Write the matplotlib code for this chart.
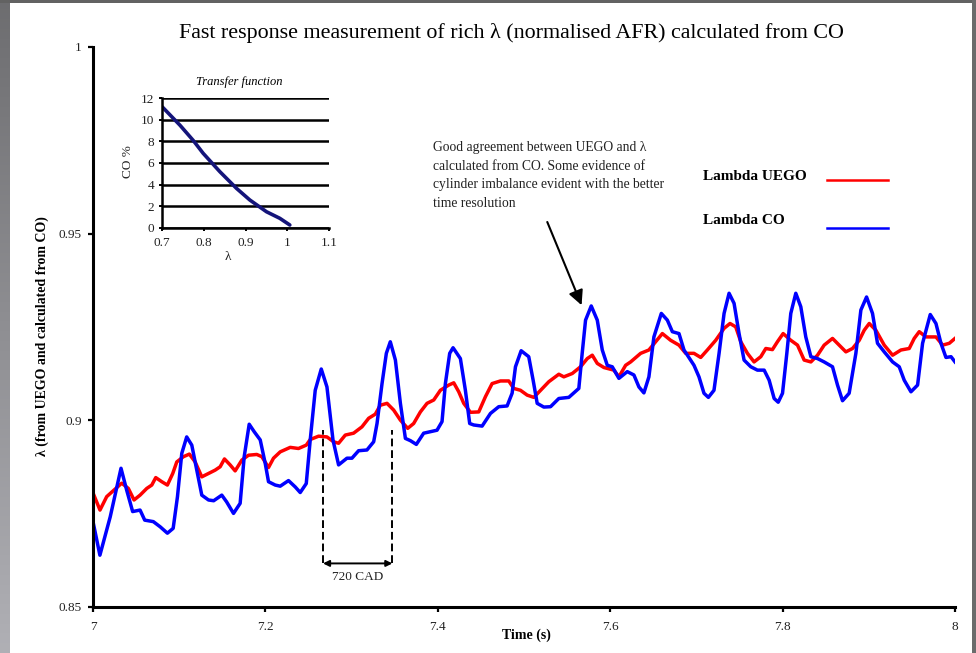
import numpy as np
import matplotlib
matplotlib.use("Agg")
import matplotlib.pyplot as plt
from matplotlib.patches import Rectangle
from matplotlib.lines import Line2D
from matplotlib.ticker import FuncFormatter

plt.rcParams['font.family'] = ['Liberation Serif', 'DejaVu Serif']

# --- data ---
t_uego = [7.000, 7.0081, 7.0159, 7.0256, 7.0333, 7.041, 7.0476, 7.0546, 7.0624, 7.0682,
          7.0728, 7.0798, 7.0863, 7.0925, 7.0972, 7.1049, 7.1118, 7.1185, 7.1262, 7.134,
          7.1417, 7.1475, 7.1525, 7.1591, 7.1649, 7.1727, 7.1804, 7.19, 7.1959, 7.2036,
          7.2094, 7.2172, 7.2288, 7.2384, 7.2474, 7.252, 7.2617, 7.2714, 7.2791, 7.2849,
          7.2927, 7.3023, 7.312, 7.3198, 7.3275, 7.3333, 7.3411, 7.3488, 7.3566, 7.3651,
          7.372, 7.3798, 7.3875, 7.3953, 7.403, 7.4127, 7.4185, 7.4243, 7.4301, 7.4379,
          7.4475, 7.4553, 7.463, 7.4727, 7.4823, 7.4881, 7.4959, 7.5037, 7.5114, 7.5192,
          7.5288, 7.5404, 7.5462, 7.556, 7.5656, 7.5734, 7.5792, 7.585, 7.5927, 7.6043,
          7.6101, 7.6179, 7.6237, 7.6353, 7.6449, 7.6527, 7.6605, 7.6701, 7.6798, 7.6876,
          7.6972, 7.705, 7.7127, 7.7224, 7.7321, 7.739, 7.7456, 7.7515, 7.7592, 7.7669,
          7.7747, 7.7805, 7.7882, 7.794, 7.8006, 7.8095, 7.8173, 7.825, 7.8328, 7.8405,
          7.8482, 7.8579, 7.8656, 7.8734, 7.8811, 7.8889, 7.8947, 7.9005, 7.9082, 7.9179,
          7.9276, 7.9373, 7.9469, 7.9527, 7.9585, 7.9663, 7.9779, 7.9857, 7.9934, 8.000]
lam_uego = [0.8805, 0.8759, 0.8795, 0.8815, 0.8831, 0.8817, 0.8786, 0.8799, 0.8817, 0.8826,
            0.8846, 0.8835, 0.8826, 0.8857, 0.8888, 0.8902, 0.8909, 0.8888, 0.8848, 0.8857,
            0.8866, 0.8875, 0.8896, 0.8880, 0.8864, 0.8893, 0.8906, 0.8908, 0.8902, 0.8873,
            0.8898, 0.8915, 0.8927, 0.8924, 0.8933, 0.8948, 0.8957, 0.8955, 0.8942, 0.8938,
            0.8960, 0.8965, 0.8982, 0.9005, 0.9016, 0.9040, 0.9045, 0.9027, 0.9000, 0.8978,
            0.8991, 0.9022, 0.9045, 0.9054, 0.9080, 0.9094, 0.9100, 0.9076, 0.9045, 0.9021,
            0.9022, 0.9063, 0.9098, 0.9105, 0.9105, 0.9085, 0.9080, 0.9067, 0.9061, 0.9080,
            0.9103, 0.9123, 0.9116, 0.9125, 0.9143, 0.9165, 0.9174, 0.9152, 0.9141, 0.9134,
            0.9116, 0.9147, 0.9156, 0.9179, 0.9188, 0.9210, 0.9232, 0.9214, 0.9201, 0.9179,
            0.9179, 0.9168, 0.9188, 0.9214, 0.9246, 0.9259, 0.9250, 0.9210, 0.9179, 0.9156,
            0.9170, 0.9192, 0.9189, 0.9210, 0.9232, 0.9214, 0.9201, 0.9161, 0.9156, 0.9174,
            0.9201, 0.9219, 0.9201, 0.9183, 0.9192, 0.9214, 0.9241, 0.9259, 0.9241, 0.9201,
            0.9174, 0.9188, 0.9192, 0.9219, 0.9237, 0.9223, 0.9223, 0.9201, 0.9206, 0.9219]

t_co = [7.000, 7.008, 7.020, 7.0325, 7.039, 7.046, 7.0546, 7.060, 7.070, 7.078,
        7.0863, 7.093, 7.098, 7.103, 7.1087, 7.1146, 7.1204, 7.1262, 7.134, 7.140,
        7.1494, 7.155, 7.163, 7.1707, 7.1754, 7.1812, 7.187, 7.194, 7.1998, 7.2036,
        7.2114, 7.2172, 7.2268, 7.2346, 7.2404, 7.2474, 7.252, 7.2578, 7.2648, 7.2714,
        7.2784, 7.2849, 7.2946, 7.3004, 7.3081, 7.3178, 7.3256, 7.3295, 7.3353, 7.3403,
        7.3449, 7.3508, 7.3566, 7.3624, 7.3682, 7.3751, 7.3836, 7.3914, 7.3991, 7.4049,
        7.4088, 7.4138, 7.4177, 7.4262, 7.432, 7.437, 7.4417, 7.4514, 7.4611, 7.4707,
        7.4804, 7.4862, 7.4901, 7.4967, 7.5055, 7.5106, 7.5153, 7.523, 7.5308, 7.5404,
        7.552, 7.5636, 7.5675, 7.5714, 7.578, 7.585, 7.5908, 7.5966, 7.6024, 7.6101,
        7.6198, 7.6275, 7.6333, 7.6391, 7.6449, 7.6507, 7.6593, 7.6663, 7.6721, 7.6798,
        7.6856, 7.6972, 7.7030, 7.7088, 7.7139, 7.7204, 7.7263, 7.7321, 7.7379, 7.7437,
        7.7495, 7.7553, 7.7631, 7.7708, 7.7786, 7.7844, 7.7902, 7.7949, 7.7999, 7.8049,
        7.8095, 7.8153, 7.8211, 7.8269, 7.8328, 7.8405, 7.8482, 7.8579, 7.8637, 7.8695,
        7.8772, 7.885, 7.8908, 7.8974, 7.9043, 7.9101, 7.9179, 7.9276, 7.9353, 7.9411,
        7.9489, 7.9566, 7.9624, 7.9713, 7.9779, 7.9837, 7.9895, 7.9954, 8.000]
lam_co = [0.8728, 0.8638, 0.8741, 0.8871, 0.8813, 0.8755, 0.8759, 0.8732, 0.8728, 0.8714,
          0.8697, 0.8710, 0.8795, 0.8911, 0.8955, 0.8933, 0.8866, 0.8799, 0.8786, 0.8784,
          0.8799, 0.8781, 0.8750, 0.8777, 0.8902, 0.8989, 0.8969, 0.8947, 0.8884, 0.8835,
          0.8826, 0.8823, 0.8838, 0.8821, 0.8806, 0.8830, 0.8947, 0.9080, 0.9137, 0.9089,
          0.8947, 0.8880, 0.8898, 0.8898, 0.8918, 0.8920, 0.8942, 0.8991, 0.9098, 0.9179,
          0.9210, 0.9161, 0.9045, 0.8951, 0.8945, 0.8935, 0.8965, 0.8969, 0.8973, 0.8996,
          0.9098, 0.9179, 0.9194, 0.9165, 0.9080, 0.8991, 0.8987, 0.8984, 0.9018, 0.9036,
          0.9038, 0.9072, 0.9143, 0.9186, 0.9170, 0.9107, 0.9045, 0.9035, 0.9036, 0.9058,
          0.9061, 0.9085, 0.9179, 0.9268, 0.9306, 0.9268, 0.9188, 0.9147, 0.9143, 0.9112,
          0.9130, 0.9121, 0.9089, 0.9073, 0.9116, 0.9223, 0.9286, 0.9268, 0.9237, 0.9232,
          0.9188, 0.9147, 0.9116, 0.9072, 0.9061, 0.9080, 0.9179, 0.9286, 0.9340, 0.9313,
          0.9232, 0.9161, 0.9143, 0.9134, 0.9134, 0.9107, 0.9058, 0.9048, 0.9072, 0.9179,
          0.9286, 0.9340, 0.9304, 0.9223, 0.9170, 0.9165, 0.9156, 0.9143, 0.9094, 0.9052,
          0.9072, 0.9179, 0.9295, 0.9330, 0.9286, 0.9206, 0.9183, 0.9156, 0.9143, 0.9107,
          0.9076, 0.9094, 0.9206, 0.9283, 0.9259, 0.9206, 0.9168, 0.9170, 0.9156]

# transfer function inset (lambda vs CO %)
tf_lambda = [0.700, 0.7425, 0.774, 0.798, 0.838, 0.878, 0.910, 0.950, 0.982, 1.006]
tf_co = [11.2, 9.5, 8.1, 6.9, 5.2, 3.65, 2.57, 1.48, 0.87, 0.25]

# one engine cycle (720 crank angle degrees)
cad_start, cad_end = 7.2668, 7.3473

x_ticks = [7, 7.2, 7.4, 7.6, 7.8, 8]
y_ticks = [0.85, 0.9, 0.95, 1]
tf_x_ticks = [0.7, 0.8, 0.9, 1, 1.1]
tf_y_ticks = [0, 2, 4, 6, 8, 10, 12]

W, H = 976, 653
fig = plt.figure(figsize=(W / 100, H / 100), dpi=100)
fig.patch.set_facecolor('white')

# grey window border
fig.add_artist(Rectangle((0, 1 - 3 / H), 1, 3 / H, transform=fig.transFigure,
                         color='#626262', lw=0, zorder=0))
fig.add_artist(Rectangle((972 / W, 0), 4 / W, 1, transform=fig.transFigure,
                         color='#6b6b6b', lw=0, zorder=0))
edge = fig.add_axes([0, 0, 10 / W, 1 - 3 / H])
top_c = np.array([0.43, 0.43, 0.44])
bot_c = np.array([0.69, 0.69, 0.71])
grad = np.linspace(0, 1, 200)[:, None, None] * (bot_c - top_c) + top_c
edge.imshow(np.repeat(grad, 2, axis=1), aspect='auto')
edge.axis('off')

# --- main chart ---
ax = fig.add_axes([93 / W, (H - 606.7) / H, 862 / W, 559.7 / H])
ax.plot(t_uego, lam_uego, color='#ff0000', lw=2.5, solid_joinstyle='round')
ax.plot(t_co, lam_co, color='#0000ff', lw=2.5, solid_joinstyle='round')

ax.set_xlim(7, 8)
ax.set_ylim(0.85, 1.0)
ax.set_xticks(x_ticks)
ax.set_yticks(y_ticks)
fmt = FuncFormatter(lambda v, p: '%g' % v)
ax.xaxis.set_major_formatter(fmt)
ax.yaxis.set_major_formatter(fmt)
for s in ['top', 'right']:
    ax.spines[s].set_visible(False)
for s in ['left', 'bottom']:
    ax.spines[s].set_linewidth(2.2)
ax.tick_params(axis='both', direction='out', length=3.6, width=1.6,
               labelsize=9.5, labelcolor='#222222')
ax.tick_params(axis='x', pad=7)
ax.tick_params(axis='y', pad=4.5)

ax.text(-0.059, 0.4837, u'\u03bb (from UEGO and calculated from CO)', transform=ax.transAxes,
        rotation=90, ha='center', va='center', fontsize=10, fontweight='bold')
ax.text(0.5023, -0.0506, 'Time (s)', transform=ax.transAxes,
        ha='center', va='center', fontsize=10, fontweight='bold')
fig.text(511 / W, 1 - 33 / H,
         u'Fast response measurement of rich \u03bb (normalised AFR) calculated from CO',
         ha='center', va='center', fontsize=15.8)

# legend drawn by hand: labels left, line samples right
leg_rows = [('Lambda UEGO', '#ff0000', 176.7, 180.0), ('Lambda CO', '#0000ff', 220.0, 227.7)]
for label, col, ty, ly in leg_rows:
    fig.text(702.7 / W, 1 - ty / H, label, ha='left', va='center',
             fontsize=11, fontweight='bold')
    fig.add_artist(Line2D([826.7 / W, 888.3 / W], [1 - ly / H, 1 - ly / H],
                          transform=fig.transFigure, color=col, lw=1.8))

# comment and arrow
ax.text(7.3945, 0.9747,
        u'Good agreement between UEGO and \u03bb\ncalculated from CO. Some evidence of\n'
        'cylinder imbalance evident with the better\ntime resolution',
        ha='left', va='top', fontsize=9.8, linespacing=1.55, color='#222222')
ax.annotate('', xy=(7.5668, 0.9308), xytext=(7.527, 0.9531),
            arrowprops=dict(arrowstyle='-|>', color='k', lw=1.5,
                            mutation_scale=22, shrinkA=0, shrinkB=0))

# 720 CAD marker
for tc in (cad_start, cad_end):
    ax.plot([tc, tc], [0.8616, 0.8973], color='k', lw=1.4, dashes=(4, 2))
ax.annotate('', xy=(cad_start, 0.8616), xytext=(cad_end, 0.8616),
            arrowprops=dict(arrowstyle='<|-|>', color='k', lw=1.4,
                            mutation_scale=9, shrinkA=0, shrinkB=0))
ax.text((cad_start + cad_end) / 2, 0.8580, '720 CAD', ha='center', va='center',
        fontsize=9.5, color='#222222')

# --- inset: transfer function ---
ins = fig.add_axes([162.3 / W, (H - 227.7) / H, 166.7 / W, 129.4 / H])
ins.plot(tf_lambda, tf_co, color='#14147a', lw=2.6, solid_capstyle='round')
ins.set_xlim(0.7, 1.1)
ins.set_ylim(0, 12)
ins.set_xticks(tf_x_ticks)
ins.set_yticks(tf_y_ticks)
ins.xaxis.set_major_formatter(fmt)
ins.yaxis.grid(True, color='k', lw=1.8)
ins.set_axisbelow(True)
for s in ['top', 'right']:
    ins.spines[s].set_visible(False)
for s in ['left', 'bottom']:
    ins.spines[s].set_linewidth(1.8)
ins.tick_params(axis='both', direction='out', length=2.2, width=1.4,
                labelsize=9.5, labelcolor='#222222')
ins.tick_params(axis='x', pad=4.5)
ins.tick_params(axis='y', pad=3.5)
ins.text(0.46, 1.126, 'Transfer function', transform=ins.transAxes,
         ha='center', va='center', fontsize=9, style='italic')
ins.text(-0.206, 0.508, 'CO %', transform=ins.transAxes, rotation=90,
         ha='center', va='center', fontsize=9.5, color='#222222')
ins.text(0.394, -0.226, u'\u03bb', transform=ins.transAxes,
         ha='center', va='center', fontsize=9.5, color='#222222')

fig.savefig('out.png', dpi=100)
